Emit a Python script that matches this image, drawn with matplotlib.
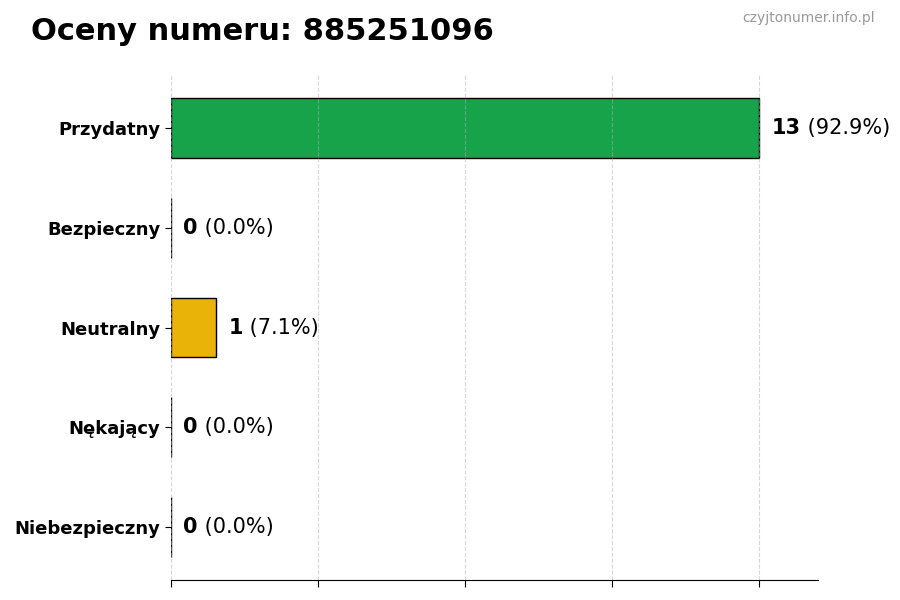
import matplotlib
matplotlib.use("Agg")
import matplotlib.pyplot as plt
import numpy as np

title = "Oceny numeru: 885251096"
watermark = "czyjtonumer.info.pl"
categories = ["Przydatny", "Bezpieczny", "Neutralny", "Nękający", "Niebezpieczny"]
counts = [13, 0, 1, 0, 0]
colors = ["#16a34a", "#3b82f6", "#eab308", "#f97316", "#dc2626"]

total = sum(counts)
maxv = max(counts)

fig = plt.figure(figsize=(9, 6), dpi=100)
ax = fig.add_axes([0.19, 0.0333, 0.719, 0.8417])

y = np.arange(len(categories))
ax.barh(y, counts, height=0.6, color=colors, edgecolor="black", linewidth=1, zorder=1)
ax.set_yticks(y)
ax.set_yticklabels(categories, fontsize=13, fontweight="bold")
ax.invert_yaxis()
ax.set_xlim(0, maxv * 1.1)
ax.set_xticks(np.linspace(0, maxv, 5))
ax.set_xticklabels([])
ax.grid(axis="x", linestyle="--", color="#b0b0b0", alpha=0.5, zorder=3)
ax.set_axisbelow(False)
for s in ["top", "right", "left"]:
    ax.spines[s].set_visible(False)
ax.tick_params(axis="x", length=5)
ax.tick_params(axis="y", length=4)

fig.canvas.draw()
renderer = fig.canvas.get_renderer()
for yi, c in zip(y, counts):
    pct = 100.0 * c / total if total else 0
    t1 = ax.text(c + maxv * 0.021, yi, f"{c}", fontsize=15, fontweight="bold",
                 va="center", ha="left", zorder=5)
    bb = t1.get_window_extent(renderer=renderer)
    x_disp = bb.x1
    x_data = ax.transData.inverted().transform((x_disp, 0))[0]
    ax.text(x_data, yi, f" ({pct:.1f}%)", fontsize=15, va="center", ha="left", zorder=5,
            clip_on=False)

fig.text(0.034, 0.947, title, fontsize=22, fontweight="bold", ha="left", va="center")
fig.text(0.972, 0.97, watermark, fontsize=10, color="#999999", ha="right", va="center")

fig.savefig("out.png", dpi=100)
